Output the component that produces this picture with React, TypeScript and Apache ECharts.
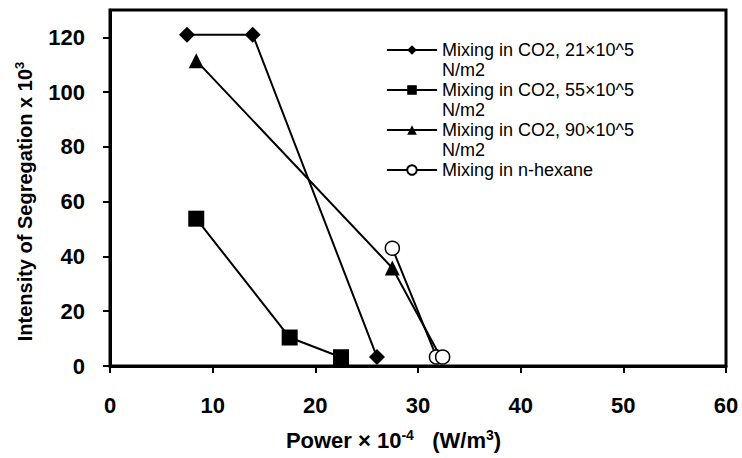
import React, { useEffect, useRef } from "react";
import * as echarts from "echarts";

// Mixing experiments: segregation intensity against power input
const seriesNames = [
  "Mixing in CO2, 21×10^5\nN/m2",
  "Mixing in CO2, 55×10^5\nN/m2",
  "Mixing in CO2, 90×10^5\nN/m2",
  "Mixing in n-hexane",
];
const co2At21: [number, number][] = [
  [7.5, 121],
  [13.9, 121],
  [26.0, 3.3],
];
const co2At55: [number, number][] = [
  [8.4, 53.8],
  [17.5, 10.4],
  [22.5, 3.2],
];
const co2At90: [number, number][] = [
  [8.4, 111.5],
  [27.5, 35.8],
  [32.2, 3.3],
];
const nHexane: [number, number][] = [
  [27.5, 43],
  [31.8, 3.3],
  [32.4, 3.3],
];
const xTicks = [0, 10, 20, 30, 40, 50, 60];
const yTicks = [0, 20, 40, 60, 80, 100, 120];

const FONT = "'Liberation Sans', Arial, Helvetica, sans-serif";

// Legend text is centred on its marker, so each entry gets a blank line above
// and is padded to three lines: the first printed line then sits level with the marker.
function legendLabel(name: string): string {
  const lines = name.split("\n");
  while (lines.length < 2) lines.push("");
  return "\n" + lines.join("\n");
}

export default function App() {
  const ref = useRef<HTMLDivElement>(null);

  useEffect(() => {
    if (!ref.current) return;
    const chart = echarts.init(ref.current, null, { renderer: "svg" });

    const lineStyle = { color: "#000", width: 2 };
    const black = { color: "#000", borderColor: "#000", borderWidth: 0 };

    chart.setOption({
      animation: false,
      backgroundColor: "#fff",
      textStyle: { fontFamily: FONT },
      grid: {
        left: 110,
        right: 16,
        top: 10,
        bottom: 92,
        show: true,
        borderColor: "#000",
        borderWidth: 3,
        backgroundColor: "transparent",
      },
      legend: {
        orient: "vertical",
        left: 386,
        top: 20,
        padding: 0,
        itemWidth: 50,
        itemHeight: 12,
        itemGap: -20,
        selectedMode: false,
        formatter: legendLabel,
        textStyle: {
          fontFamily: FONT,
          fontSize: 18,
          lineHeight: 20,
          color: "#000",
        },
        data: seriesNames,
      },
      xAxis: {
        type: "value",
        min: 0,
        max: 60,
        interval: 10,
        name: "{t|Power × 10}{s|-4}{t|   (W/m}{s|3}{t|)}",
        nameLocation: "middle",
        nameGap: 62,
        nameTextStyle: {
          padding: [0, 49, 0, 0],
          rich: {
            t: { fontFamily: FONT, fontSize: 22, fontWeight: "bold", lineHeight: 24, color: "#000" },
            s: { fontFamily: FONT, fontSize: 14, fontWeight: "bold", lineHeight: 14, verticalAlign: "top", color: "#000" },
          },
        },
        axisLine: { show: true, lineStyle: { color: "#000", width: 3 } },
        axisTick: { show: true, inside: false, length: 7, lineStyle: { color: "#000", width: 2 } },
        axisLabel: {
          customValues: xTicks,
          margin: 28,
          fontFamily: FONT,
          fontSize: 22,
          lineHeight: 22,
          fontWeight: "bold",
          color: "#000",
        },
        splitLine: { show: false },
      },
      yAxis: {
        type: "value",
        min: 0,
        max: 130,
        name: "{t|Intensity of Segregation x 10}{s|3}",
        nameLocation: "middle",
        nameGap: 73,
        nameTextStyle: {
          padding: [0, 27, 0, 0],
          rich: {
            t: { fontFamily: FONT, fontSize: 20, fontWeight: "bold", lineHeight: 24, color: "#000" },
            s: { fontFamily: FONT, fontSize: 13, fontWeight: "bold", lineHeight: 14, verticalAlign: "top", color: "#000" },
          },
        },
        axisLine: { show: true, lineStyle: { color: "#000", width: 3 } },
        axisTick: {
          show: true,
          inside: false,
          length: 7,
          customValues: yTicks,
          lineStyle: { color: "#000", width: 2 },
        },
        axisLabel: {
          customValues: yTicks,
          margin: 25,
          fontFamily: FONT,
          fontSize: 22,
          lineHeight: 22,
          fontWeight: "bold",
          color: "#000",
        },
        splitLine: { show: false },
      },
      series: [
        {
          name: seriesNames[0],
          type: "line",
          data: co2At21,
          symbol: "diamond",
          symbolSize: 16,
          lineStyle,
          itemStyle: black,
          z: 2,
        },
        {
          name: seriesNames[1],
          type: "line",
          data: co2At55,
          symbol: "rect",
          symbolSize: 16,
          lineStyle,
          itemStyle: black,
          z: 3,
        },
        {
          name: seriesNames[2],
          type: "line",
          data: co2At90.map((p, i) =>
            i === co2At90.length - 1 ? { value: p, symbol: "none" } : p
          ),
          symbol: "triangle",
          symbolSize: 15,
          lineStyle,
          itemStyle: black,
          z: 4,
        },
        {
          name: seriesNames[3],
          type: "line",
          data: nHexane,
          symbol: "circle",
          symbolSize: 14,
          lineStyle,
          itemStyle: { color: "#fff", borderColor: "#000", borderWidth: 1.5 },
          z: 5,
        },
      ],
    });

    return () => chart.dispose();
  }, []);

  return (
    <div
      ref={ref}
      style={{ position: "fixed", left: 0, top: 0, width: 742, height: 458, background: "#fff" }}
    />
  );
}
